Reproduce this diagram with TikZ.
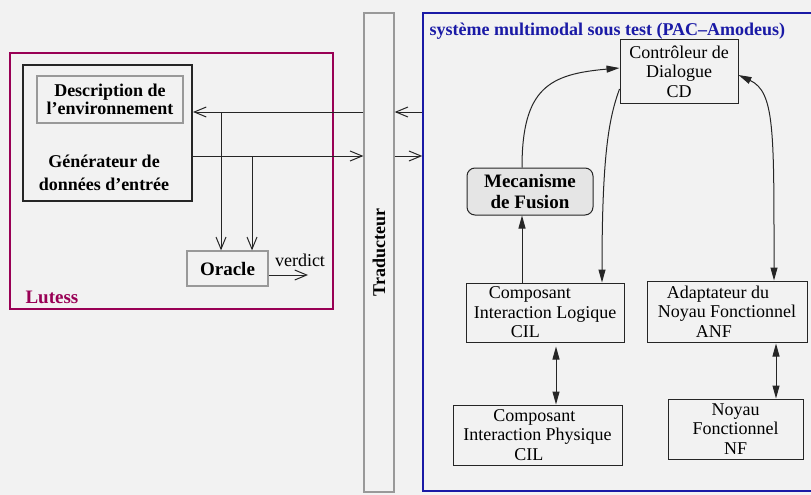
\documentclass[tikz,border=0pt]{standalone}
\usepackage{fontspec}
\setmainfont{Liberation Serif}
\usetikzlibrary{arrows.meta,positioning,calc}
\definecolor{lutess}{HTML}{990055}
\definecolor{pac}{HTML}{1A1AA6}
\definecolor{cadre}{HTML}{999999}
\definecolor{fond}{HTML}{F2F2F2}

\begin{document}
\begin{tikzpicture}[
  x=1pt,y=-1pt,
  box/.style={draw=black!85,line width=1pt,inner sep=0pt,align=center,font=\fontsize{18}{19.5}\selectfont},
  gbox/.style={draw=cadre,line width=1.3pt,inner sep=0pt,align=center},
  ouvert/.style={black!85,line width=1pt,-{Straight Barb[length=12pt,width=10pt]}},
  fleche/.style={black!85,line width=1pt,-{Triangle[length=13pt,width=7pt]}},
  bidir/.style={black!85,line width=1pt,{Triangle[length=13pt,width=7pt]}-{Triangle[length=13pt,width=7pt]}},
]
  \fill[fond] (0,0) rectangle (811,495);
  \useasboundingbox (0,0) rectangle (811,495);

  % Lutess side
  \node[draw=lutess,line width=1.2pt,minimum width=323pt,minimum height=256pt,inner sep=0pt] (lutess) at (171.5,181) {};
  \node[anchor=west,text=lutess,font=\bfseries\fontsize{19}{21}\selectfont] (lutesslbl) at (22,297) {Lutess};
  \node[draw=black!85,line width=2pt,minimum width=169pt,minimum height=136pt,inner sep=0pt] (gen) at (107.5,133) {};
  \node[gbox,minimum width=146pt,minimum height=47pt,font=\bfseries\fontsize{18}{15}\selectfont] (desc) at (110,99.5) {Description de\\l'environnement};
  \node[align=center,font=\bfseries\fontsize{18}{23}\selectfont] (gentxt) at (104,173) {Générateur de\\données d'entrée};
  \node[gbox,minimum width=81pt,minimum height=35pt,font=\bfseries\fontsize{19}{21}\selectfont] (oracle) at (227.5,268.5) {Oracle};

  % Traducteur
  \node[gbox,minimum width=30pt,minimum height=479pt] (trad) at (379,252.5) {};
  \node[rotate=90,font=\bfseries\fontsize{18}{20}\selectfont] (tradtxt) at (trad.center) {Traducteur};

  % Systeme sous test
  \node[draw=pac,line width=1.5pt,minimum width=400pt,minimum height=478pt,inner sep=0pt] (sys) at (623,252) {};
  \node[anchor=west,text=pac,font=\bfseries\fontsize{18}{20}\selectfont] (titre) at (426,31) {système multimodal sous test (PAC--Amodeus)};

  \node[box,minimum width=118pt,minimum height=63pt] (cd) at (679,71.5) {Contrôleur de\\Dialogue\\CD};
  \node[box,rounded corners=8pt,fill=black!10,font=\bfseries\fontsize{19}{21}\selectfont,minimum width=126pt,minimum height=47pt] (fus) at (530,191.5) {Mecanisme\\de Fusion};
  \node[box,align=left,minimum width=158pt,minimum height=59pt] (cil) at (545,312.5) {\hspace*{15pt}Composant\\Interaction Logique\\\hspace*{37pt}CIL};
  \node[box,align=left,minimum width=160pt,minimum height=61pt] (anf) at (727,311.5) {\hspace*{9pt}Adaptateur du\\Noyau Fonctionnel\\\hspace*{38pt}ANF};
  \node[box,align=left,minimum width=169pt,minimum height=60pt] (cip) at (537.5,435) {\hspace*{30pt}Composant\\Interaction Physique\\\hspace*{51pt}CIL};
  \node[box,minimum width=135pt,minimum height=60pt] (nf) at (735.5,429) {Noyau\\Fonctionnel\\NF};

  % Flux Lutess <-> Traducteur
  \coordinate (rowin) at (0,112);
  \coordinate (rowout) at (0,156);
  \coordinate (dropa) at (221,112);
  \coordinate (dropb) at (252,156);
  \coordinate (verdict) at (308,275);
  \draw[ouvert] (trad.west |- rowin) -- (gen.east |- rowin);
  \draw[ouvert] (gen.east |- rowout) -- (trad.west |- rowout);
  \draw[ouvert] (dropa) -- (dropa |- oracle.north);
  \draw[ouvert] (dropb) -- (dropb |- oracle.north);
  \draw[ouvert] (oracle.east |- verdict) -- (verdict);
  \node[font=\fontsize{18}{20}\selectfont] (vlabel) at (300,260) {verdict};

  % Traducteur <-> systeme
  \draw[ouvert] (sys.west |- rowin) -- (trad.east |- rowin);
  \draw[ouvert] (trad.east |- rowout) -- (sys.west |- rowout);

  % PAC-Amodeus
  \draw[fleche] ([xshift=-8pt]fus.north) .. controls +(90:80pt) and +(185:70pt) .. ([yshift=3.5pt]cd.west);
  \draw[fleche] ([yshift=-17.5pt]cd.west) .. controls +(-110:30pt) and +(90:130pt) .. ([xshift=57pt]cil.north);
  \draw[bidir] ([yshift=-3.5pt]cd.east) .. controls +(-25:40pt) and +(90:150pt) .. ([xshift=47pt]anf.north);
  \draw[fleche] ([xshift=-23pt]cil.north) -- ([xshift=-8pt]fus.south);
  \draw[bidir] ([xshift=11pt,yshift=-4pt]cil.south) -- ([xshift=18.5pt]cip.north);
  \draw[bidir] ([xshift=49pt,yshift=-1pt]anf.south) -- ([xshift=40.5pt]nf.north);
\end{tikzpicture}
\end{document}
